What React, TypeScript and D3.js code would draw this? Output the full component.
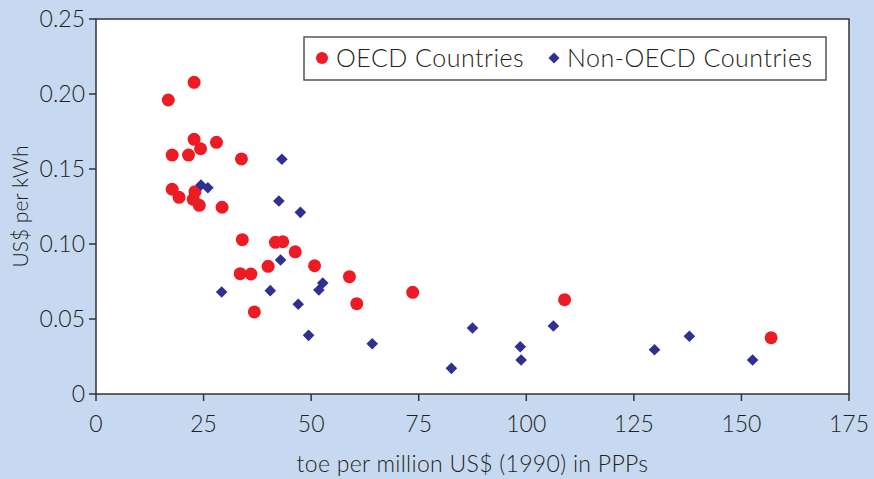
import React from "react";
import * as d3 from "d3";

const oecdX = [22.8, 16.8, 22.8, 28.0, 24.3, 17.7, 21.5, 33.8, 17.7, 19.3, 23.0, 22.6, 24.0, 29.3, 34.0, 41.7, 43.4, 46.3, 50.8, 40.0, 33.5, 36.0, 58.9, 73.6, 60.6, 36.8, 108.9, 156.9];
const oecdY = [0.2078, 0.196, 0.1698, 0.1678, 0.1635, 0.1593, 0.1593, 0.1567, 0.1365, 0.1311, 0.1349, 0.1298, 0.1258, 0.1245, 0.1029, 0.1011, 0.1015, 0.0948, 0.0855, 0.0851, 0.0802, 0.08, 0.0782, 0.0678, 0.0602, 0.0547, 0.0629, 0.0375];

const nonX = [24.4, 26.0, 43.2, 42.5, 47.5, 42.9, 29.2, 40.5, 52.7, 51.8, 47.0, 49.4, 64.2, 87.5, 82.6, 98.6, 98.8, 106.3, 129.8, 137.9, 152.6];
const nonY = [0.1393, 0.1375, 0.1565, 0.1287, 0.1211, 0.0893, 0.068, 0.0689, 0.074, 0.0693, 0.0598, 0.0391, 0.0335, 0.044, 0.0171, 0.0315, 0.0227, 0.0453, 0.0295, 0.0385, 0.0227];

const xTicks = [0, 25, 50, 75, 100, 125, 150, 175];
const yTicks = [0, 0.05, 0.1, 0.15, 0.2, 0.25];
const yTickLabels = ["0", "0.05", "0.10", "0.15", "0.20", "0.25"];

const seriesNames = ["OECD Countries", "Non-OECD Countries"];
const xTitle = "toe per million US$ (1990) in PPPs";
const yTitle = "US$ per kWh";

const W = 874;
const H = 479;
const left = 96;
const right = 849;
const top = 19;
const bottom = 394;
const FONT = "Lato, 'Open Sans', sans-serif";
const RED = "#ed1c24";
const BLUE = "#2e3192";
const BG = "#c6d9f0";
const AXIS = "#333333";
const TXT = "#231f20";

export default function App() {
  const x = d3.scaleLinear().domain([0, 175]).range([left, right]);
  const y = d3.scaleLinear().domain([0, 0.25]).range([bottom, top]);
  const diamond = (cx: number, cy: number, r: number) =>
    `M${cx},${cy - r}L${cx + r},${cy}L${cx},${cy + r}L${cx - r},${cy}Z`;

  return (
    <svg width={W} height={H} style={{ position: "absolute", left: 0, top: 0 }} fontFamily={FONT} fontWeight={300}>
      <rect x={0} y={0} width={W} height={H} fill={BG} />
      <rect x={left} y={top} width={right - left} height={bottom - top} fill="#ffffff" stroke={AXIS} strokeWidth={1.5} />
      {yTicks.map((t, i) => (
        <g key={"yt" + i}>
          <line x1={left - 7} x2={left} y1={y(t)} y2={y(t)} stroke={AXIS} strokeWidth={1.5} />
          <text x={85} y={y(t)} dy="0.36em" textAnchor="end" fontSize={23} fill={TXT}>
            {yTickLabels[i]}
          </text>
        </g>
      ))}
      {xTicks.map((t, i) => (
        <g key={"xt" + i}>
          <line x1={x(t)} x2={x(t)} y1={bottom} y2={bottom + 7} stroke={AXIS} strokeWidth={1.5} />
          <text x={x(t)} y={432} textAnchor="middle" fontSize={23} fill={TXT}>
            {t}
          </text>
        </g>
      ))}
      <text x={(left + right) / 2} y={472} textAnchor="middle" fontSize={23} letterSpacing={0.3} fill={TXT}>
        {xTitle}
      </text>
      <text
        transform={`translate(28,${(top + bottom) / 2}) rotate(-90)`}
        textAnchor="middle"
        fontSize={21}
        fill={TXT}
      >
        {yTitle}
      </text>
      {oecdX.map((v, i) => (
        <circle key={"o" + i} cx={x(v)} cy={y(oecdY[i])} r={6.5} fill={RED} />
      ))}
      {nonX.map((v, i) => (
        <path key={"n" + i} d={diamond(x(v), y(nonY[i]), 5.8)} fill={BLUE} />
      ))}
      <rect x={304} y={37} width={522} height={43} fill="#ffffff" stroke="#555555" strokeWidth={1.5} />
      <circle cx={322} cy={58} r={6} fill={RED} />
      <text x={336} y={67} fontSize={25} letterSpacing={0.5} fill={TXT}>{seriesNames[0]}</text>
      <path d={diamond(554, 58, 5.5)} fill={BLUE} />
      <text x={567} y={67} fontSize={25} letterSpacing={0.5} fill={TXT}>{seriesNames[1]}</text>
    </svg>
  );
}
